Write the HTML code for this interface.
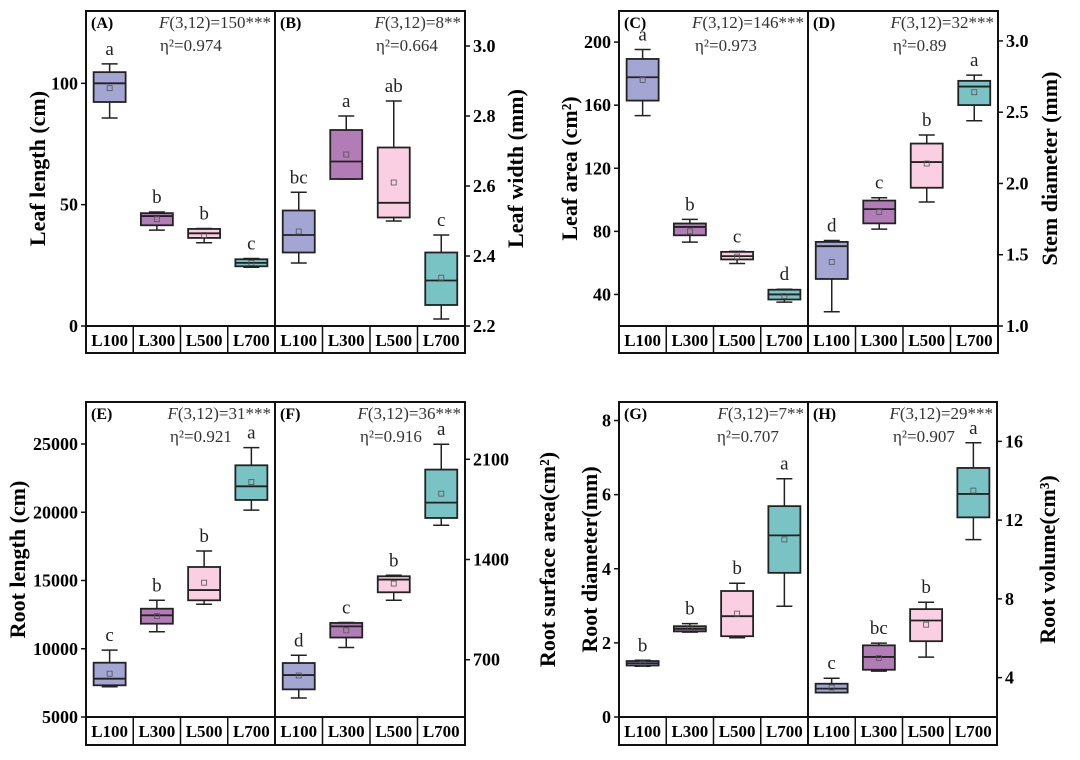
<!DOCTYPE html>
<html><head><meta charset="utf-8">
<style>
html,body{margin:0;padding:0;background:#fff;}
svg{display:block;font-family:"Liberation Serif",serif;}
</style></head>
<body>
<svg id="chart" width="1080" height="760" viewBox="0 0 1080 760" xmlns="http://www.w3.org/2000/svg"></svg>
<script>
const categories=["L100","L300","L500","L700"];
const boxColors=["#a3a5d3","#b27db7","#f9cfe1","#79c3c4"];

const A_low=[85.7,39.5,34.3,24.2];const A_q1=[92.3,41.5,36.3,24.6];const A_med=[100,45.3,38.2,26];const A_q3=[104.6,46.5,40,27.5];const A_high=[108,47,40.2,27.8];const A_mean=[98,44,37.5,26];const A_letters=["a","b","b","c"];
const B_low=[2.38,2.62,2.50,2.22];const B_q1=[2.41,2.62,2.51,2.26];const B_med=[2.46,2.67,2.552,2.33];const B_q3=[2.53,2.76,2.71,2.41];const B_high=[2.582,2.80,2.843,2.46];const B_mean=[2.47,2.69,2.61,2.338];const B_letters=["bc","a","ab","c"];
const C_low=[153.4,73.2,59.6,35.1];const C_q1=[162.9,77.5,62.2,36.8];const C_med=[177.7,82.8,64.3,40];const C_q3=[189.3,85,67,43];const C_high=[195.3,87.6,67.3,43.3];const C_mean=[176,80,64,39];const C_letters=["a","b","c","d"];
const D_low=[1.10,1.68,1.87,2.44];const D_q1=[1.33,1.72,1.97,2.55];const D_med=[1.56,1.82,2.15,2.68];const D_q3=[1.59,1.88,2.28,2.72];const D_high=[1.60,1.90,2.34,2.76];const D_mean=[1.45,1.80,2.14,2.64];const D_letters=["d","c","b","a"];
const E_low=[7220,11250,13256,20160];const E_q1=[7322,11835,13550,20900];const E_med=[7806,12450,14300,21900];const E_q3=[8978,12933,15990,23440];const E_high=[9900,13550,17160,24730];const E_mean=[8172,12400,14840,22210];const E_letters=["c","b","b","a"];
const F_low=[433,785,1115,1639];const F_q1=[493,855,1171,1690];const F_med=[593,933,1260,1797];const F_q3=[677,957,1283,2028];const F_high=[731,960,1290,2205];const F_mean=[590,905,1232,1860];const F_letters=["d","c","b","a"];
const G_low=[1.37,2.29,2.14,2.99];const G_q1=[1.39,2.31,2.18,3.89];const G_med=[1.45,2.38,2.72,4.90];const G_q3=[1.51,2.45,3.40,5.69];const G_high=[1.53,2.52,3.61,6.43];const G_mean=[1.44,2.40,2.79,4.79];const G_letters=["b","b","b","a"];
const H_low=[3.24,4.33,5.04,11.01];const H_q1=[3.24,4.40,5.85,12.14];const H_med=[3.44,5.05,6.90,13.33];const H_q3=[3.69,5.64,7.48,14.65];const H_high=[3.97,5.75,7.83,15.93];const H_mean=[3.5,5.0,6.69,13.5];const H_letters=["c","bc","b","a"];

const A_ticks=[0,50,100];const B_ticks=[2.2,2.4,2.6,2.8,3.0];const C_ticks=[40,80,120,160,200];const D_ticks=[1.0,1.5,2.0,2.5,3.0];
const E_ticks=[5000,10000,15000,20000,25000];const F_ticks=[700,1400,2100];const G_ticks=[0,2,4,6,8];const H_ticks=[4,8,12,16];

const NS="http://www.w3.org/2000/svg";
const svg=document.getElementById("chart");
function mk(tag,attrs,parent,text){const e=document.createElementNS(NS,tag);for(const k in attrs)e.setAttribute(k,attrs[k]);if(text!==undefined)e.textContent=text;(parent||svg).appendChild(e);return e;}

const panels=[
 {id:"A",x0:86,x1:275,top:11,bot:326,lab:353,dmin:0,dmax:129.8,ticks:A_ticks,fmt:v=>String(v),side:"left",d:[A_low,A_q1,A_med,A_q3,A_high,A_mean,A_letters],F:"=150***",eta:"η²=0.974",ex:160,title:"Leaf length (cm)",tx:40},
 {id:"B",x0:275,x1:465,top:11,bot:326,lab:353,dmin:2.2,dmax:3.1,ticks:B_ticks,fmt:v=>v.toFixed(1),side:"right",d:[B_low,B_q1,B_med,B_q3,B_high,B_mean,B_letters],F:"=8**",eta:"η²=0.664",ex:376,title:"Leaf width (mm)",tx:518},
 {id:"C",x0:619,x1:808,top:11,bot:326,lab:353,dmin:20,dmax:219.7,ticks:C_ticks,fmt:v=>String(v),side:"left",d:[C_low,C_q1,C_med,C_q3,C_high,C_mean,C_letters],F:"=146***",eta:"η²=0.973",ex:695,title:"Leaf area (cm²)",tx:572},
 {id:"D",x0:808,x1:998,top:11,bot:326,lab:353,dmin:1.0,dmax:3.21,ticks:D_ticks,fmt:v=>v.toFixed(1),side:"right",d:[D_low,D_q1,D_med,D_q3,D_high,D_mean,D_letters],F:"=32***",eta:"η²=0.89",ex:893,title:"Stem diameter (mm)",tx:1052},
 {id:"E",x0:86,x1:275,top:402,bot:717,lab:745,dmin:5000,dmax:28077,ticks:E_ticks,fmt:v=>String(v),side:"left",d:[E_low,E_q1,E_med,E_q3,E_high,E_mean,E_letters],F:"=31***",eta:"η²=0.921",ex:170,title:"Root length (cm)",tx:20},
 {id:"F",x0:275,x1:465,top:402,bot:717,lab:745,dmin:300,dmax:2500,ticks:F_ticks,fmt:v=>String(v),side:"right",d:[F_low,F_q1,F_med,F_q3,F_high,F_mean,F_letters],F:"=36***",eta:"η²=0.916",ex:360,title:"Root surface area(cm²)",tx:550},
 {id:"G",x0:619,x1:808,top:402,bot:717,lab:745,dmin:0,dmax:8.5,ticks:G_ticks,fmt:v=>String(v),side:"left",d:[G_low,G_q1,G_med,G_q3,G_high,G_mean,G_letters],F:"=7**",eta:"η²=0.707",ex:717,title:"Root diameter(mm)",tx:592},
 {id:"H",x0:808,x1:997,top:402,bot:717,lab:745,dmin:2,dmax:18,ticks:H_ticks,fmt:v=>String(v),side:"right",d:[H_low,H_q1,H_med,H_q3,H_high,H_mean,H_letters],F:"=29***",eta:"η²=0.907",ex:893,title:"Root volume(cm³)",tx:1050}
];

panels.forEach(p=>{
 const g=mk("g",{});
 
 
 const y=v=>p.bot-(v-p.dmin)/(p.dmax-p.dmin)*(p.bot-p.top);
 const cw=(p.x1-p.x0)/4;
 const xc=i=>p.x0+cw*(i+0.5);
 const frame=mk("rect",{x:p.x0,y:p.top,width:p.x1-p.x0,height:p.lab-p.top,fill:"none",stroke:"#111","stroke-width":2},g);
 
 
 mk("line",{x1:p.x0,x2:p.x1,y1:p.bot,y2:p.bot,stroke:"#111","stroke-width":2},g);
 categories.forEach((c,i)=>{
  if(i>0) mk("line",{x1:p.x0+cw*i,x2:p.x0+cw*i,y1:p.bot,y2:p.lab,stroke:"#111","stroke-width":1.5},g);
  const t=mk("text",{x:xc(i),y:p.bot+20,"text-anchor":"middle","font-size":17,"font-weight":"bold"},g,c);
  
  
 });
 const ax=p.side==="left"?p.x0:p.x1;
 p.ticks.forEach(v=>{
  const ty=y(v);
  const dir=p.side==="left"?-1:1;
  mk("line",{x1:ax,x2:ax+dir*5,y1:ty,y2:ty,stroke:"#111","stroke-width":1.5},g);
  const t=mk("text",{x:ax+dir*8,y:ty+6,"text-anchor":p.side==="left"?"end":"start","font-size":18,"font-weight":"bold"},g,p.fmt(v));
  
  
 });
 const ty=(p.top+p.bot)/2;
 const tt=mk("text",{x:p.tx,y:ty,"text-anchor":"middle","font-size":22,"font-weight":"bold",transform:`rotate(-90 ${p.tx} ${ty})`,"dominant-baseline":"middle"},g,p.title);
 
 
 const pl=mk("text",{x:p.x0+5,y:p.top+17,"font-size":16,"font-weight":"bold"},g,"("+p.id+")");
 
 
 const ft=mk("text",{x:p.x1-4,y:p.top+17,"text-anchor":"end","font-size":17,fill:"#333"},g);
 
 
 mk("tspan",{"font-style":"italic"},ft,"F");
 mk("tspan",{},ft,"(3,12)"+p.F);
 const et=mk("text",{x:p.ex,y:p.top+40,"font-size":17,fill:"#333"},g,p.eta);
 
 
 const [lo,q1,md,q3,hi,mn,lt]=p.d;
 const bw=32;
 categories.forEach((c,i)=>{
  const bg=mk("g",{},g);
  
  
  const x=xc(i);
  mk("line",{x1:x,x2:x,y1:y(hi[i]),y2:y(q3[i]),stroke:"#222","stroke-width":1.5},bg);
  mk("line",{x1:x,x2:x,y1:y(q1[i]),y2:y(lo[i]),stroke:"#222","stroke-width":1.5},bg);
  mk("line",{x1:x-8,x2:x+8,y1:y(hi[i]),y2:y(hi[i]),stroke:"#222","stroke-width":1.5},bg);
  mk("line",{x1:x-8,x2:x+8,y1:y(lo[i]),y2:y(lo[i]),stroke:"#222","stroke-width":1.5},bg);
  mk("rect",{x:x-bw/2,y:y(q3[i]),width:bw,height:Math.max(1,y(q1[i])-y(q3[i])),fill:boxColors[i],stroke:"#222","stroke-width":1.8},bg);
  mk("line",{x1:x-bw/2,x2:x+bw/2,y1:y(md[i]),y2:y(md[i]),stroke:"#222","stroke-width":1.8},bg);
  mk("rect",{x:x-2.5,y:y(mn[i])-2.5,width:5,height:5,fill:"none",stroke:"#555","stroke-width":0.8},bg);
  mk("text",{x:x,y:y(hi[i])-9,"text-anchor":"middle","font-size":19,fill:"#222"},bg,lt[i]);
 });
});
</script>
</body></html>
